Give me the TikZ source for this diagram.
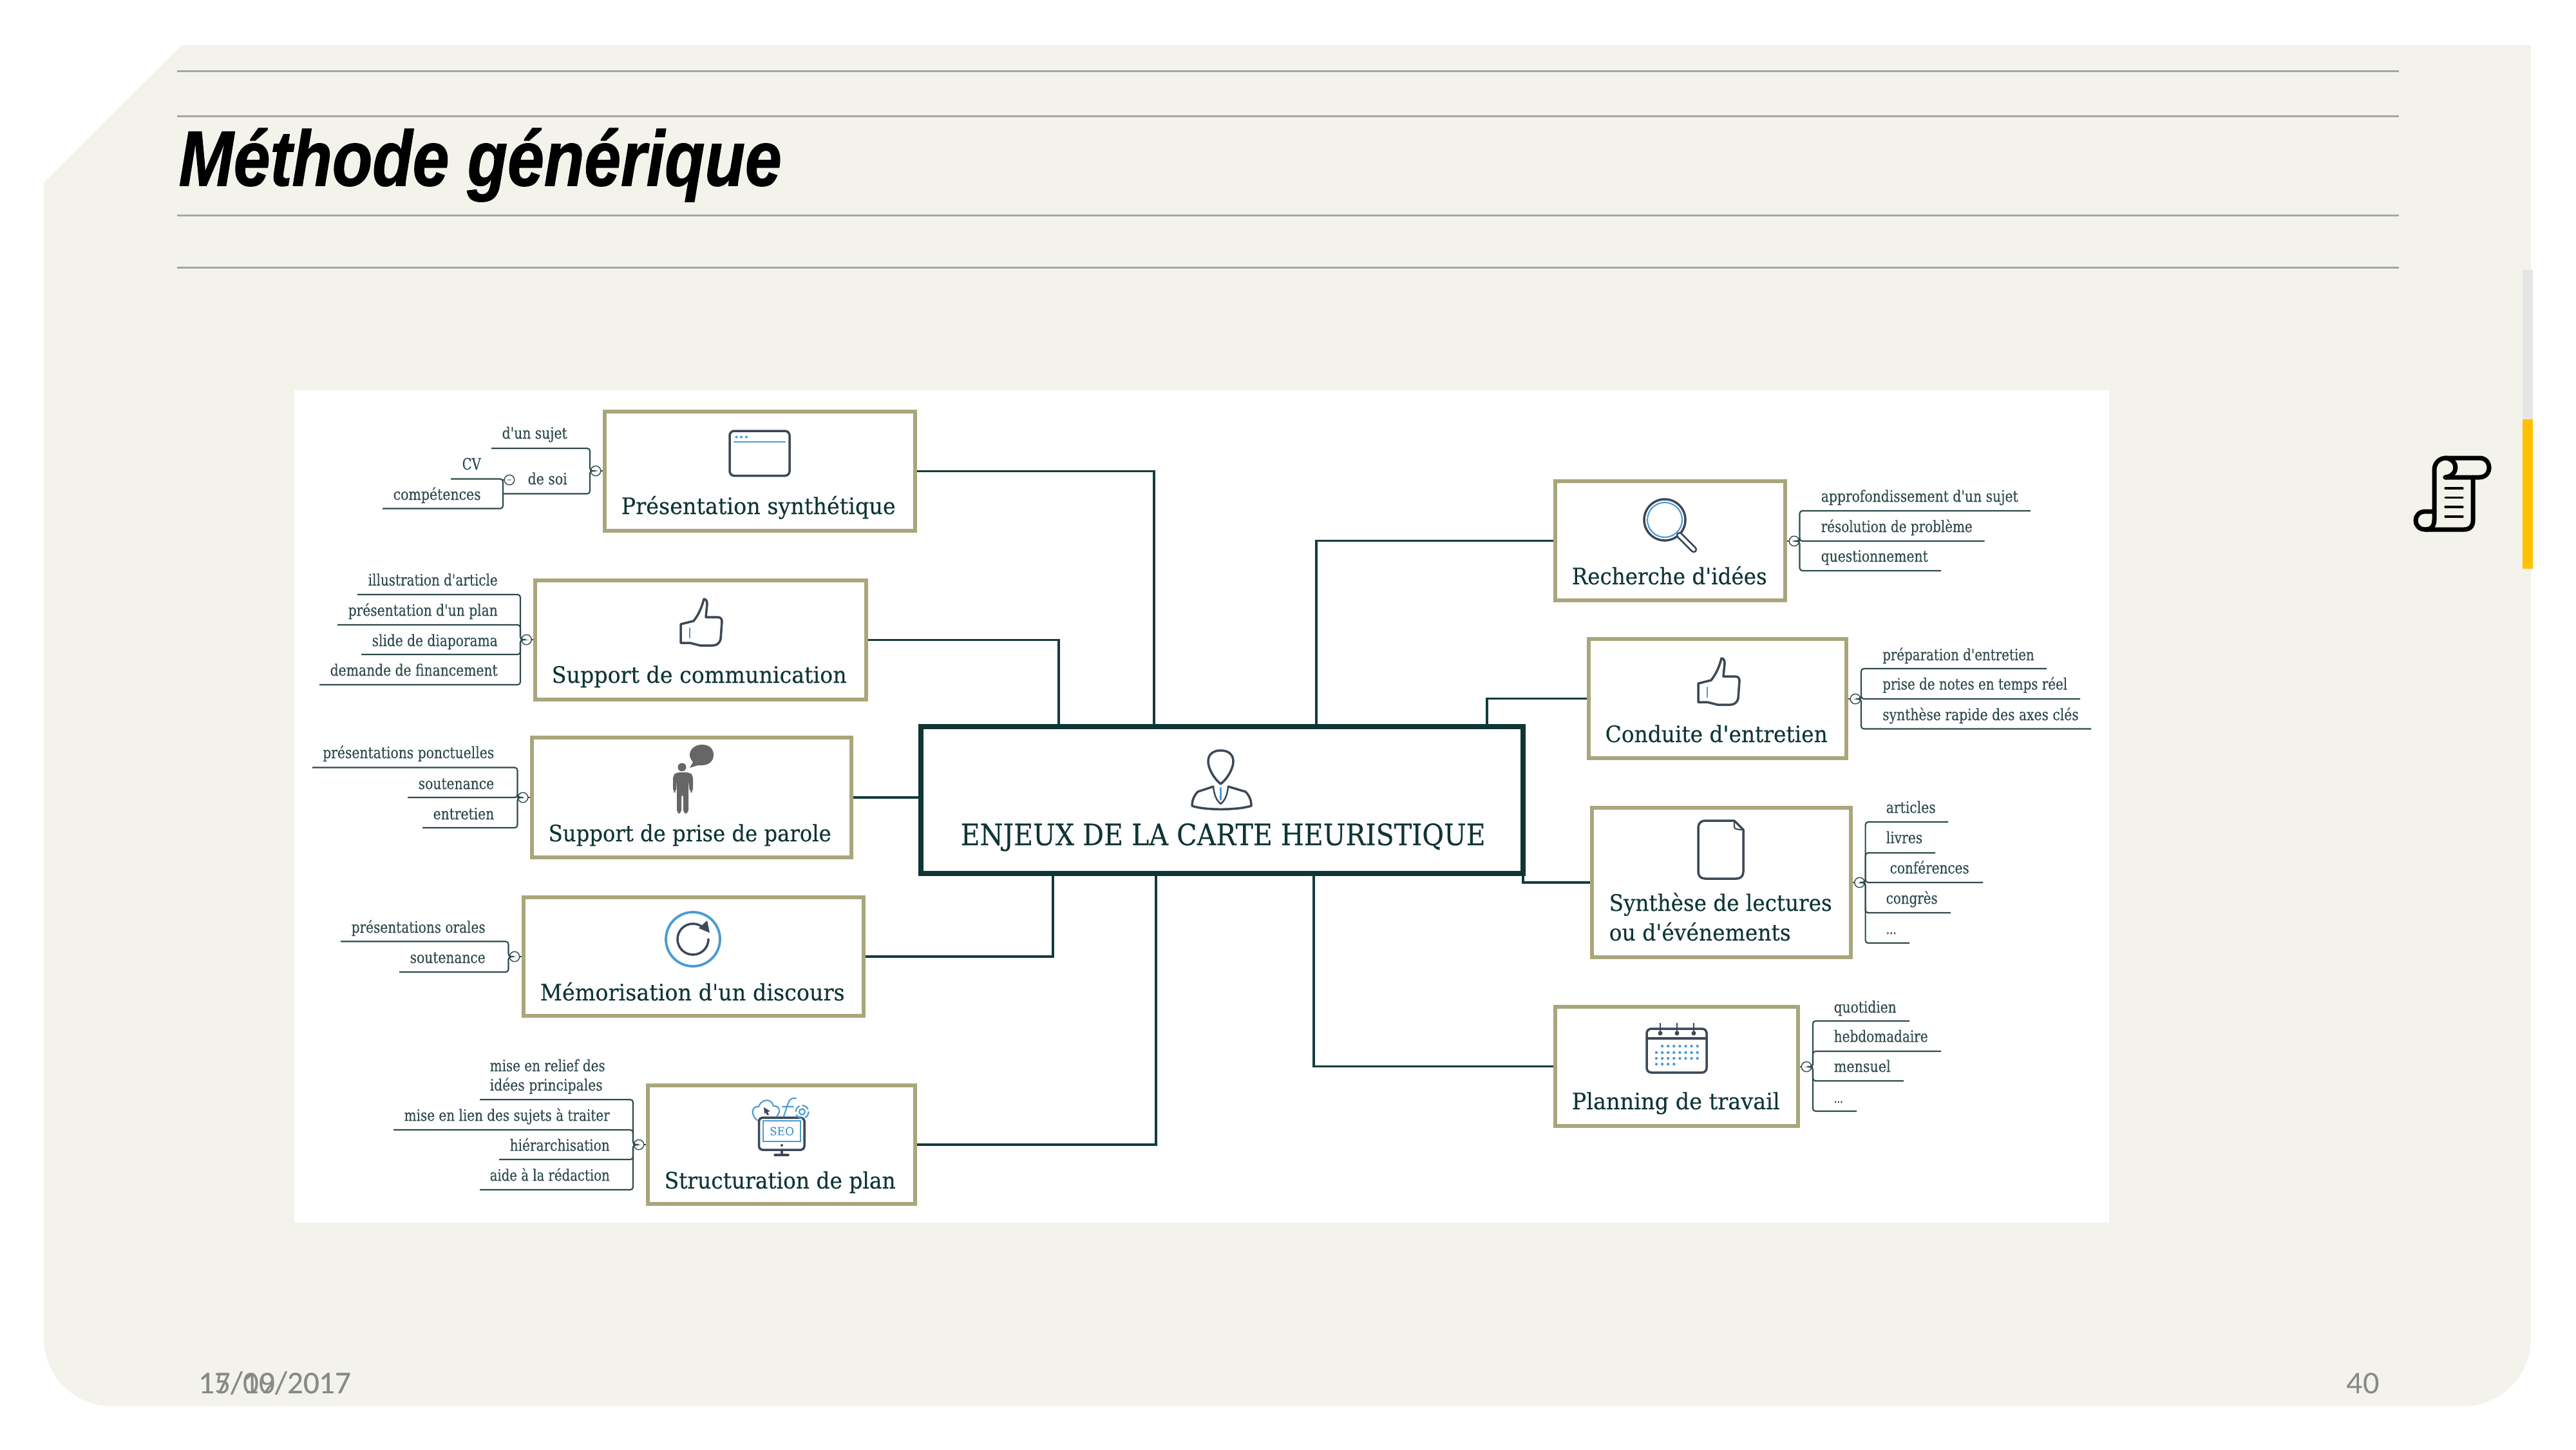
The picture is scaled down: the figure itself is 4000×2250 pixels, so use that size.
\documentclass[tikz,border=0pt]{standalone}
\usepackage{fontspec}
\setmainfont[Ligatures=TeXOff,FakeBold=0.25]{DejaVu Serif}
\newfontfamily\titlefont[BoldItalicFeatures={FakeBold=1.2}]{Liberation Sans}
\newfontfamily\footfont{Carlito}
\usetikzlibrary{calc}
\definecolor{panel}{HTML}{F3F3EC}
\definecolor{rulegrey}{HTML}{A6A6A6}
\definecolor{olive}{HTML}{A9A67C}
\definecolor{deep}{HTML}{0F3535}
\definecolor{conn}{HTML}{143C3C}
\definecolor{leafc}{HTML}{2E4A4C}
\definecolor{inkc}{HTML}{3D4857}
\definecolor{bluec}{HTML}{4A9BD4}
\definecolor{footc}{HTML}{898989}
\definecolor{barc}{HTML}{FFC000}
\newlength{\px}\setlength{\px}{0.01cm}
\newcounter{lb}\newcounter{lfc}
\tikzset{
 rulel/.style={draw=rulegrey,line width=0.85pt},
 kbox/.style={draw=olive,line width=1.7pt,fill=white,inner sep=0pt},
 cbox/.style={draw=deep,line width=2.3pt,fill=white,inner sep=0pt},
 connl/.style={draw=conn,line width=1pt},
 leafl/.style={draw=leafc,line width=0.6pt,rounded corners=1.2pt},
 mkr/.style={circle,draw=leafc,line width=0.4pt,fill=white,inner sep=0pt,minimum size=4.4pt},
 mkminus/.style={draw=gray!70,line width=0.3pt},
 ttext/.style={text=black,font=\titlefont\bfseries\itshape\fontsize{34.5}{40}\selectfont},
 btext/.style={text=deep,font=\fontsize{10}{12}\selectfont},
 ctext/.style={text=deep,font=\fontsize{13}{15}\selectfont},
 ltext/.style={text=leafc,font=\fontsize{7}{8}\selectfont},
 ftext/.style={text=footc,font=\footfont\fontsize{14}{16}\selectfont},
 ink/.style={draw=inkc,line width=1pt,line join=round,line cap=round},
 inkblue/.style={draw=bluec,line width=0.6pt,line cap=round},
 scrolll/.style={draw=black,line width=2pt,line cap=round,line join=round},
}
\newcommand{\lab}[6]{\stepcounter{lb}\node[#1,anchor=#2,inner sep=0pt] (t\thelb) at (#3,#4) {\resizebox{#5\px}{\height}{#6}};}
\newcommand{\kb}[5]{\node[kbox,minimum width={(#4-#2-6)*0.01cm},minimum height={(#5-#3-6)*0.01cm}] (#1) at ({(#2+#4)/2},{(#3+#5)/2}) {};}
\newcommand{\mk}[4]{\coordinate (#1s) at (#4,#3);\node[mkr] (#1) at (#2,#3) {};\draw[mkminus] ([xshift=-0.03cm]#1.center) -- ([xshift=0.03cm]#1.center);}
\newcommand{\lf}[3]{\stepcounter{lfc}\coordinate (l\thelfc) at (#3,#2);\draw[leafl] (#1) -- (#1s) |- (l\thelfc);}
\newcommand{\thumbicon}[2]{\begin{scope}[shift={(#1,#2)}]
 \draw[ink] (0,39) -- (20,34) .. controls (28,24) and (33,12) .. (36,0) .. controls (40,0) and (41,4) .. (41,8) -- (39,28) -- (57,28) .. controls (62,28) and (64,31) .. (64,35) -- (62,62) .. controls (61,68) and (56,72) .. (50,72) -- (30,72) -- (14,68) -- (0,68) -- cycle;
 \draw[inkblue] (14,45) -- (14,60);
\end{scope}}
\begin{document}
\begin{tikzpicture}[x=0.01cm,y=-0.01cm]
\useasboundingbox (0,0) rectangle (4000,2250);
% slide
\fill[panel] (282,70) -- (3930,70) -- (3930,2078) .. controls (3930,2136) and (3883,2183) .. (3825,2183) -- (173,2183) .. controls (115,2183) and (68,2136) .. (68,2078) -- (68,283) -- cycle;
\foreach \yy in {110,180,334,415} \draw[rulel] (275,\yy) -- (3725,\yy);
\lab{ttext}{base west}{277}{288}{936}{Méthode générique}
\fill[black!10] (3917,419) rectangle (3933,651);
\fill[barc] (3917,651) rectangle (3933,883);
% scroll icon
\draw[scrolll] (3797,741) -- (3850,741) .. controls (3870,741) and (3870,711) .. (3850,711) -- (3798,711) .. controls (3788,711) and (3780,719) .. (3780,729) -- (3780,806) .. controls (3780,816) and (3776,822) .. (3766,822) .. controls (3746,822) and (3746,794) .. (3766,794) -- (3780,794);
\draw[scrolll] (3797,741) .. controls (3818,738) and (3818,714) .. (3798,711);
\draw[scrolll] (3840,741) -- (3840,808) .. controls (3840,817) and (3835,822) .. (3826,822) -- (3766,822);
\foreach \yy in {758,772.5,787,802} \draw[black,line width=0.9pt,line cap=round] (3797,\yy) -- (3824,\yy);
% footer
\lab{ftext}{base west}{308}{2163}{237}{15/09/2017}
\lab{ftext}{base west}{308}{2163}{237}{17/10/2017}
\lab{ftext}{base west}{3643}{2163}{51}{40}
% picture
\fill[white] (457,606) rectangle (3275,1898);
% main boxes
\node[cbox,minimum width={(943-8)*0.01cm},minimum height={(236-8)*0.01cm}] (centre) at (1897.5,1242) {};
\kb{pres}{936}{636}{1424}{827}
\kb{comm}{828}{898}{1348}{1089}
\kb{parole}{823}{1142}{1325}{1334}
\kb{memo}{810}{1390}{1344}{1580}
\kb{struct}{1003}{1682}{1424}{1872}
\kb{rech}{2412}{744}{2775}{935}
\kb{cond}{2464}{989}{2870}{1180}
\kb{synth}{2469}{1251}{2877}{1489}
\kb{plan}{2412}{1560}{2795}{1751}
% connectors
\coordinate (c1) at (1792,1124);\coordinate (c2) at (1644,1124);
\coordinate (c3) at (1635,1360);\coordinate (c4) at (1795,1360);
\coordinate (c5) at (2044,1124);\coordinate (c6) at (2309,1124);
\coordinate (c7) at (2040,1360);\coordinate (c8) at (2365,1360);
\draw[connl] (pres.east) -| (c1);
\draw[connl] (comm.east) -| (c2);
\draw[connl] (parole.east) -- (parole.east -| centre.west);
\draw[connl] (memo.east) -| (c3);
\draw[connl] (struct.east) -| (c4);
\draw[connl] (rech.west) -| (c5);
\draw[connl] (cond.west) -| (c6);
\draw[connl] (plan.west) -| (c7);
\draw[connl] (synth.west) -| (c8);
% box labels
\lab{btext}{base west}{964}{798}{426}{Présentation synthétique}
\lab{btext}{base west}{856}{1060}{458}{Support de communication}
\lab{btext}{base west}{851}{1306}{439}{Support de prise de parole}
\lab{btext}{base west}{838}{1553}{473}{Mémorisation d'un discours}
\lab{btext}{base west}{1031}{1845}{359}{Structuration de plan}
\lab{btext}{base west}{2440}{907}{303}{Recherche d'idées}
\lab{btext}{base west}{2492}{1152}{345}{Conduite d'entretien}
\lab{btext}{base west}{2498}{1414}{346}{Synthèse de lectures}
\lab{btext}{base west}{2498}{1460}{282}{ou d'événements}
\lab{btext}{base west}{2440}{1722}{323}{Planning de travail}
\lab{ctext}{base west}{1491}{1312}{815}{ENJEUX DE LA CARTE HEURISTIQUE}
% leaves: Présentation
\mk{ma}{925}{731}{916}
\draw[leafl] (ma) -- (pres.west |- ma);
\lf{ma}{696}{763}
\lf{ma}{766.5}{781}
\node[mkr] (mb) at (791,745) {};
\draw[mkminus] ([xshift=-0.03cm]mb.center) -- ([xshift=0.03cm]mb.center);
\coordinate (mbj) at (781,745);\coordinate (mbe) at (700,743.5);\coordinate (mbf) at (594,789.5);
\draw[leafl] (mb) -- (mbj);
\draw[leafl] (l2) |- (mbe);
\draw[leafl] (l2) |- (mbf);
\lab{ltext}{base west}{779}{681}{101}{d'un sujet}
\lab{ltext}{base west}{819}{752}{61}{de soi}
\lab{ltext}{base west}{717}{729}{29}{CV}
\lab{ltext}{base west}{610}{776}{136}{compétences}
% Support de communication
\mk{mc}{817.5}{993}{808}
\draw[leafl] (mc) -- (comm.west |- mc);
\lf{mc}{923}{555}\lf{mc}{970}{524}\lf{mc}{1016}{561}\lf{mc}{1063}{496}
\lab{ltext}{base west}{571}{909}{201}{illustration d'article}
\lab{ltext}{base west}{540}{956}{232}{présentation d'un plan}
\lab{ltext}{base west}{577}{1003}{195}{slide de diaporama}
\lab{ltext}{base west}{512}{1049}{260}{demande de financement}
% Prise de parole
\mk{md}{812}{1238}{803.5}
\draw[leafl] (md) -- (parole.west |- md);
\lf{md}{1191.5}{485}\lf{md}{1238}{633}\lf{md}{1285}{656}
\lab{ltext}{base west}{500.5}{1177}{266}{présentations ponctuelles}
\lab{ltext}{base west}{649}{1225}{117.5}{soutenance}
\lab{ltext}{base west}{672}{1272}{94.5}{entretien}
% Mémorisation
\mk{me}{799}{1485}{789.5}
\draw[leafl] (me) -- (memo.west |- me);
\lf{me}{1461.5}{529}\lf{me}{1509}{620}
\lab{ltext}{base west}{545}{1448}{208}{présentations orales}
\lab{ltext}{base west}{636}{1495}{117}{soutenance}
% Structuration
\mk{mf}{992}{1777}{983}
\draw[leafl] (mf) -- (struct.west |- mf);
\lf{mf}{1707}{745}\lf{mf}{1754}{611}\lf{mf}{1800}{775}\lf{mf}{1847}{745}
\lab{ltext}{base west}{760}{1663}{179}{mise en relief des}
\lab{ltext}{base west}{760}{1693}{175}{idées principales}
\lab{ltext}{base west}{627}{1740}{319}{mise en lien des sujets à traiter}
\lab{ltext}{base west}{791}{1786.5}{155}{hiérarchisation}
\lab{ltext}{base west}{760}{1833}{186}{aide à la rédaction}
% Recherche
\mk{mg}{2786}{840}{2794.5}
\draw[leafl] (mg) -- (rech.east |- mg);
\lf{mg}{793}{3153}\lf{mg}{840}{3081.5}\lf{mg}{886}{3014}
\lab{ltext}{base west}{2827}{779}{306}{approfondissement d'un sujet}
\lab{ltext}{base west}{2827}{826}{235}{résolution de problème}
\lab{ltext}{base west}{2827}{872}{166}{questionnement}
% Conduite
\mk{mh}{2881}{1085}{2890}
\draw[leafl] (mh) -- (cond.east |- mh);
\lf{mh}{1038}{3178}\lf{mh}{1085}{3230}\lf{mh}{1131.5}{3247}
\lab{ltext}{base west}{2922.5}{1025}{235.5}{préparation d'entretien}
\lab{ltext}{base west}{2922.5}{1070.5}{287}{prise de notes en temps réel}
\lab{ltext}{base west}{2922.5}{1118}{304.5}{synthèse rapide des axes clés}
% Synthèse
\mk{mi}{2887.5}{1370}{2896.6}
\draw[leafl] (mi) -- (synth.east |- mi);
\lf{mi}{1276}{3025}\lf{mi}{1324}{3005}\lf{mi}{1370}{3079}\lf{mi}{1417}{3029}\lf{mi}{1464}{2965}
\lab{ltext}{base west}{2928}{1262}{77}{articles}
\lab{ltext}{base west}{2928}{1309}{56.5}{livres}
\lab{ltext}{base west}{2934}{1356}{123}{conférences}
\lab{ltext}{base west}{2928}{1403}{80}{congrès}
\lab{ltext}{base west}{2928}{1450}{16}{...}
% Planning
\mk{mj}{2805}{1656}{2815}
\draw[leafl] (mj) -- (plan.east |- mj);
\lf{mj}{1585}{2965}\lf{mj}{1632}{3014}\lf{mj}{1678}{2956}\lf{mj}{1725}{2883}
\lab{ltext}{base west}{2847}{1572}{97}{quotidien}
\lab{ltext}{base west}{2847}{1617.5}{146}{hebdomadaire}
\lab{ltext}{base west}{2847}{1664}{88}{mensuel}
\lab{ltext}{base west}{2847}{1712}{14}{...}
% icons
% browser window
\draw[ink,rounded corners=2pt] (1133,669) rectangle (1226,738.5);
\draw[inkblue] (1140,686) -- (1219,686);
\foreach \xx in {1143.5,1151,1159} \fill[bluec] (\xx,678.5) circle (2);
% thumbs
\thumbicon{1057}{930}
\thumbicon{2637}{1022}
% person with bubble
\fill[black!60] (1090,1156) .. controls (1102,1156) and (1108,1163) .. (1108,1172) .. controls (1108,1182) and (1100,1188) .. (1090,1188) -- (1084,1188) -- (1071,1192) -- (1076,1183) .. controls (1072,1178) and (1071,1175) .. (1071,1172) .. controls (1071,1163) and (1079,1156) .. (1090,1156) -- cycle;
\fill[black!60] (1059,1191) circle (6.5);
\fill[black!60,rounded corners=1.5pt] (1045,1230) -- (1045,1204) -- (1050,1199) -- (1071,1199) -- (1076,1204) -- (1076,1230) -- (1071,1230) -- (1069,1210) -- (1069,1263) -- (1061,1263) -- (1061,1232) -- (1058,1232) -- (1058,1263) -- (1051,1263) -- (1051,1210) -- (1050,1230) -- cycle;
% refresh
\draw[bluec,line width=1.1pt] (1076,1458) circle (42);
\draw[ink] (1100,1458) arc[start angle=0,end angle=310,radius=24];
\fill[inkc] (1098,1429) -- (1102,1448) -- (1085,1441) -- cycle;
% SEO monitor
\draw[ink,rounded corners=1.5pt] (1178.5,1735) rectangle (1249,1785);
\draw[inkblue] (1185,1740) rectangle (1243,1772);
\lab{text=bluec,font=\fontsize{5}{6}\selectfont}{center}{1214}{1756}{38}{SEO}
\fill[inkc] (1214,1778) circle (2);
\draw[ink] (1214,1785) -- (1214,1793) (1203,1793) -- (1224,1793);
\draw[inkblue] (1176,1739) .. controls (1164,1730) and (1168,1716) .. (1178,1718) .. controls (1182,1706) and (1198,1704) .. (1201,1717) .. controls (1212,1716) and (1212,1728) .. (1206,1733);
\fill[inkc] (1186,1719) -- (1196,1725) -- (1192,1726) -- (1194,1731) -- (1191,1731) -- (1189,1727) -- (1187,1729) -- cycle;
\draw[inkblue] (1217,1733) -- (1224,1712) .. controls (1226,1706) and (1231,1704) .. (1236,1705) (1215,1718) -- (1232,1718);
\draw[inkblue] (1245.5,1726) circle (4.5);
\draw[inkblue,dash pattern=on 3pt off 1.5pt] (1245.5,1726) circle (10);
% magnifier
\draw[ink] (2585,807) circle (32);
\draw[inkblue] (2585,807) circle (27);
\draw[draw=inkc,line width=3pt,line cap=round] (2608,831) -- (2630,853);
\draw[draw=white,line width=1.4pt,line cap=round] (2608,831) -- (2630,853);
% document
\draw[ink] (2693,1274) -- (2648,1274) .. controls (2641,1274) and (2637,1278) .. (2637,1285) -- (2637,1353) .. controls (2637,1360) and (2641,1364) .. (2648,1364) -- (2696,1364) .. controls (2703,1364) and (2707,1360) .. (2707,1353) -- (2707,1288) -- (2693,1274);
\draw[draw=inkc,line width=0.6pt] (2693,1274) -- (2693,1284) .. controls (2694,1287) and (2697,1288) .. (2707,1288);
% calendar
\draw[ink,rounded corners=2pt] (2557,1597) rectangle (2650,1665);
\draw[ink] (2557,1612) -- (2650,1612);
\foreach \xx in {2578,2604,2630} {\draw[draw=inkc,line width=0.7pt] (\xx,1588) -- (\xx,1604); \fill[inkc] (\xx,1604) circle (3.5);}
\foreach \kk in {1,...,7} \fill[bluec] ({2572+9.1*\kk},1624) circle (2.2);
\foreach \kk in {0,...,7} {\fill[bluec] ({2572+9.1*\kk},1634) circle (2.2); \fill[bluec] ({2572+9.1*\kk},1643) circle (2.2);}
\foreach \kk in {0,...,3} \fill[bluec] ({2572+9.1*\kk},1652) circle (2.2);
% centre person
\draw[ink] (1895.5,1217) .. controls (1884,1208) and (1876,1192) .. (1876,1182) .. controls (1876,1170) and (1885,1165) .. (1895.5,1165) .. controls (1906,1165) and (1915,1170) .. (1915,1182) .. controls (1915,1192) and (1907,1208) .. (1895.5,1217) -- cycle;
\draw[ink] (1884,1221) -- (1860,1229) .. controls (1853,1236) and (1851,1244) .. (1851,1251) .. controls (1870,1258) and (1921,1258) .. (1943,1251) .. controls (1943,1244) and (1941,1236) .. (1934,1229) -- (1907,1221);
\draw[ink,line width=0.7pt] (1884,1221) .. controls (1885,1232) and (1888,1242) .. (1895.5,1248) .. controls (1903,1242) and (1906,1232) .. (1907,1221);
\draw[draw=bluec,line width=1.1pt,line cap=round] (1895.5,1224) -- (1895.5,1241);
\end{tikzpicture}
\end{document}
